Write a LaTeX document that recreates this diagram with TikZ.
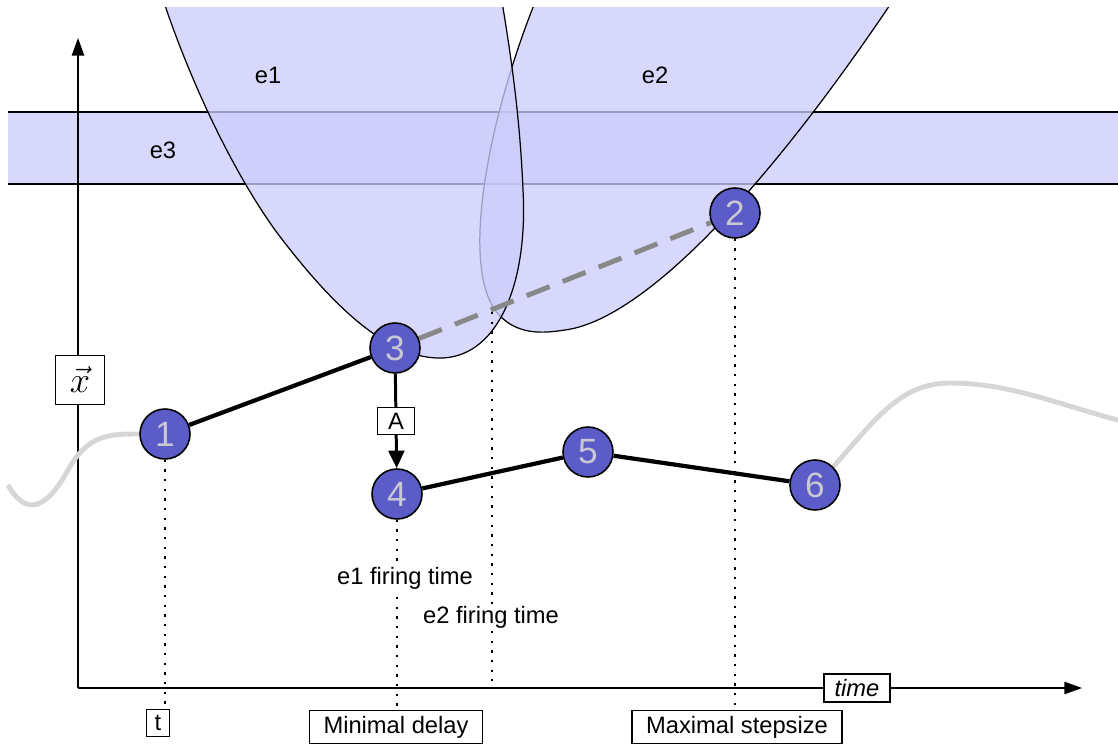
\documentclass[tikz,border=0pt]{standalone}
\usepackage{fontspec}
\setmainfont{Liberation Sans}
\usetikzlibrary{arrows.meta}
\definecolor{eventfill}{RGB}{204,204,251}
\definecolor{statefill}{RGB}{92,92,200}
\definecolor{statetext}{RGB}{200,200,212}
\definecolor{trajgray}{RGB}{214,214,214}
\definecolor{dashgray}{RGB}{136,136,136}
\pgfdeclarelayer{front}
\pgfsetlayers{main,front}
\begin{document}
\begin{tikzpicture}[x=0.02cm, y=-0.02cm,
    state/.style={circle, draw, line width=0.9pt, fill=statefill, text=statetext, minimum size=1.0cm, inner sep=0pt, font=\fontsize{20}{20}\selectfont},
    tag/.style={draw, line width=0.8pt, fill=white, inner sep=3pt, font=\fontsize{13.5}{15}\selectfont},
    guide/.style={line width=1.1pt, dash pattern=on 1.3pt off 4.2pt},
    event/.style={draw=black, line width=0.7pt, fill=eventfill, fill opacity=0.77}]
    \useasboundingbox (0,0) rectangle (1118,746);

    % Event regions
    \begin{scope}
        \clip (8,8) rectangle (1118,746);
        \fill[eventfill, fill opacity=0.77] (8,112) rectangle (1118,184);
        \draw[line width=0.7pt] (8,112) -- (1118,112) (8,184) -- (1118,184);
        \path[event] (540,-10) .. controls (490,110) and (460,260) .. (495,310)
            .. controls (515,337) and (545,333) .. (565,330)
            .. controls (640,320) and (760,200) .. (900,-10) -- cycle;
        \path[event] (160,-10) .. controls (182,60) and (225,160) .. (275,230)
            .. controls (335,310) and (390,360) .. (443,358)
            .. controls (500,355) and (528,280) .. (523,190)
            .. controls (520,120) and (512,60) .. (500,-10) -- cycle;
    \end{scope}
    \node[font=\fontsize{13.5}{15}\selectfont] (e1) at (268,75) {e1};
    \node[font=\fontsize{13.5}{15}\selectfont] (e2) at (655,75) {e2};
    \node[font=\fontsize{13.5}{15}\selectfont] (e3) at (163,150) {e3};

    % Axes
    \coordinate (origin) at (78,688);
    \coordinate (ytip) at (78,38);
    \coordinate (xtip) at (1082,688);
    \draw[line width=0.8pt, -{Triangle[length=10pt, width=7pt]}] (origin) -- (ytip);
    \draw[line width=0.8pt, -{Triangle[length=10pt, width=7pt]}] (origin) -- (xtip);
    \node[tag, minimum size=0.98cm, font=\fontsize{20}{20}\selectfont] (xvec) at (80,380) {$\vec{x}$};
    \node[tag, font=\fontsize{13.5}{15}\selectfont\itshape, inner xsep=6pt, minimum height=0.5cm] (time) at (857,688) {time};

    % States
    \begin{pgfonlayer}{front}
    \node[state] (n1) at (165,434) {1};
    \node[state] (n2) at (735,213) {2};
    \node[state] (n3) at (395,348) {3};
    \node[state] (n4) at (397,494) {4};
    \node[state] (n5) at (588,452) {5};
    \node[state] (n6) at (815,485) {6};
    \end{pgfonlayer}

    % Bottom tags
    \node[tag, minimum width=0.46cm, minimum height=0.54cm, inner sep=0pt] (tbox) at (158,723) {t};
    \node[tag, inner xsep=8pt, minimum height=0.6cm] (mindelay) at (396,727) {Minimal delay};
    \node[tag, inner xsep=8pt, minimum height=0.6cm] (maxstep) at (737,727) {Maximal stepsize};
    \coordinate (cross) at (492,312);
    \coordinate (cross0) at (492,688);

    % Guides
    \draw[guide] (n1) -- (n1 |- tbox.north);
    \draw[guide] (n4) -- (n4 |- mindelay.north);
    \draw[guide] (n2) -- (n2 |- maxstep.north);
    \draw[guide] (cross) -- (cross0);
    \node[fill=white, inner sep=1pt, font=\fontsize{13.5}{15}\selectfont] (fire1) at (405,578) {e1 firing time};
    \node[fill=white, inner sep=1pt, font=\fontsize{13.5}{15}\selectfont] (fire2) at (491,617) {e2 firing time};

    % Trajectory
    \draw[trajgray, line width=2.8pt] (8,485) .. controls (25,515) and (45,512) .. (68,470)
        .. controls (88,434) and (110,434) .. (n1.west);
    \draw[trajgray, line width=2.8pt] (n6.north east) .. controls (875,420) and (900,383) .. (950,383)
        .. controls (1010,383) and (1060,405) .. (1118,420);
    \draw[line width=2.4pt] (n1) -- (n3);
    \draw[line width=2.4pt] (n4) -- (n5) -- (n6);
    \draw[dashgray, line width=2.8pt, dash pattern=on 14pt off 8pt] (n3) -- (n2);
    \draw[line width=1.7pt, -{Triangle[length=10pt, width=9pt]}] (n3) -- node[tag, minimum width=0.74cm, minimum height=0.54cm, inner sep=0pt] (act) {A} (n4);
\end{tikzpicture}
\end{document}
